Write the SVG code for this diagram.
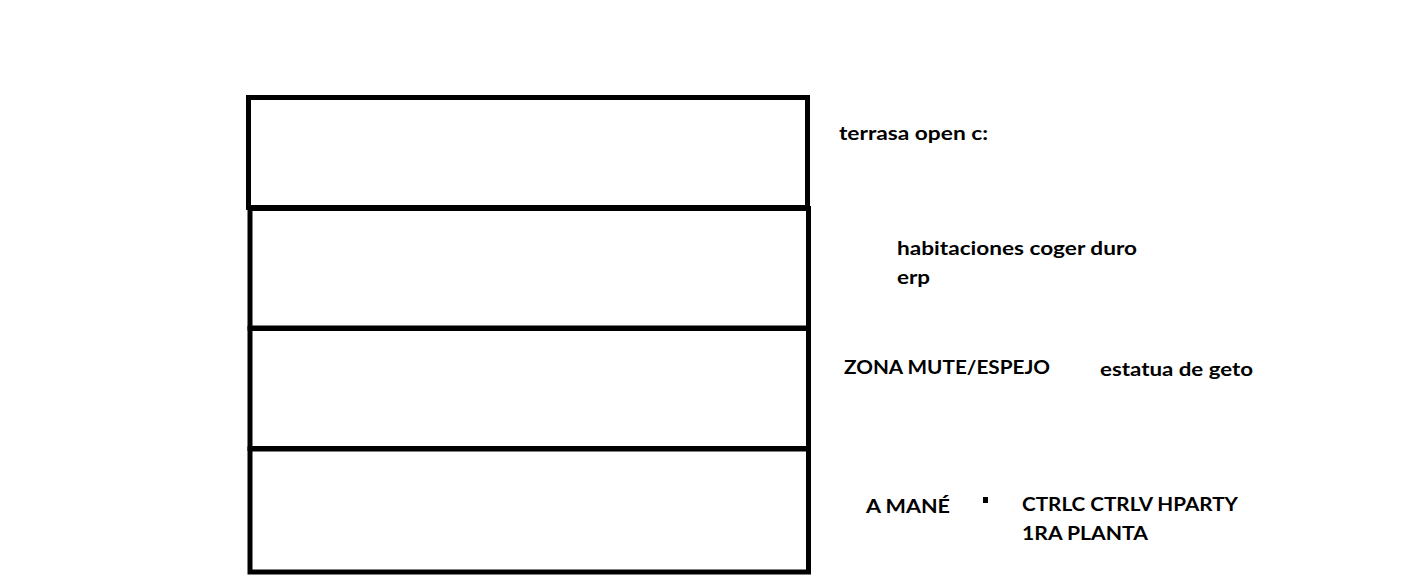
<svg xmlns="http://www.w3.org/2000/svg" width="1420" height="588" viewBox="0 0 1420 588">
<style>
.box{fill:none;stroke:#000;stroke-width:5}
.t{font-family:Lato,"Open Sans","Liberation Sans",sans-serif;font-weight:bold;font-size:19px;fill:#000}
</style>
<rect width="1420" height="588" fill="#fff"/>
<g id="floor-terrasa"><rect class="box" x="248.5" y="97.5" width="559" height="110"/></g>
<g id="floor-habitaciones"><rect class="box" x="250" y="208.5" width="558.5" height="119.5"/></g>
<g id="floor-zona-mute"><rect class="box" x="250" y="328.5" width="558.5" height="120"/></g>
<g id="floor-amane"><rect class="box" x="250" y="449" width="558.5" height="123"/></g>
<g id="connectors"></g>
<g id="labels">
<text class="t" x="839" y="140" textLength="149" lengthAdjust="spacingAndGlyphs">terrasa open c:</text>
<text class="t" x="897" y="255" textLength="240" lengthAdjust="spacingAndGlyphs">habitaciones coger duro</text>
<text class="t" x="897" y="284" textLength="33" lengthAdjust="spacingAndGlyphs">erp</text>
<text class="t" x="844" y="374" textLength="206" lengthAdjust="spacingAndGlyphs">ZONA MUTE/ESPEJO</text>
<text class="t" x="1100" y="376" textLength="153" lengthAdjust="spacingAndGlyphs">estatua de geto</text>
<text class="t" x="866" y="513" textLength="84" lengthAdjust="spacingAndGlyphs">A MANÉ</text>
<rect x="983" y="497" width="5" height="6" fill="#000"/>
<text class="t" x="1022" y="511" textLength="216" lengthAdjust="spacingAndGlyphs">CTRLC CTRLV HPARTY</text>
<text class="t" x="1022" y="540" textLength="126" lengthAdjust="spacingAndGlyphs">1RA PLANTA</text>
</g>
</svg>
